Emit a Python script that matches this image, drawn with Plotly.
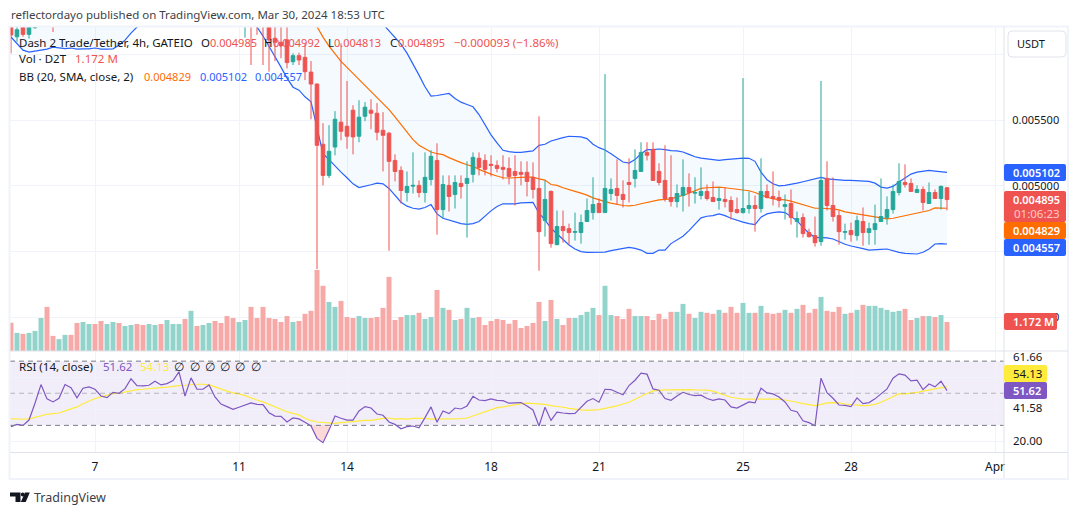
import pandas as pd
import plotly.graph_objects as go

# all prices below are in millionths of a USDT, volume in millions
open_u = [
    6240, 6134, 6250, 6152, 6203, 6300, 6460, 6330, 6270, 6300,
    6470, 6430, 6330, 6450, 6480, 6450, 6370, 6390, 6490, 6460,
    6560, 6800, 6650, 6640, 6660, 6780, 6690, 6730, 6830, 7120,
    6780, 7080, 6860, 6870, 6960, 6720, 6560, 6500, 6420, 6450,
    6510, 6470, 6460, 6240, 6122, 6092, 6110, 5944, 5990, 5977,
    5865, 5774, 5316, 5079, 5295, 5484, 5453, 5575, 5377, 5529,
    5575, 5552, 5422, 5400, 5193, 5117, 4949, 4997, 5003, 4949,
    5048, 5193, 4819, 5003, 4934, 5018, 5018, 5087, 5209, 5193,
    5163, 5155, 5140, 5132, 5109, 5102, 5102, 5064, 4980, 4735,
    4957, 4552, 4690, 4674, 4646, 4644, 4728, 4796, 4865, 4796,
    4941, 4980, 4934, 5025, 5056, 5109, 5254, 5277, 5109, 5041,
    4911, 4880, 4926, 4987, 4944, 4926, 4957, 4911, 4888, 4896,
    4888, 4819, 4796, 4827, 4850, 4827, 4957, 4919, 4911, 4842,
    4865, 4728, 4758, 4644, 4621, 4575, 5056, 4850, 4773, 4646,
    4659, 4621, 4728, 4644, 4667, 4728, 4758, 4819, 4949, 5025,
    5018, 4949, 4972, 4865, 4949, 4903, 4985,
]
close_u = [
    6147, 6187, 6152, 6240, 6300, 6460, 6330, 6270, 6300, 6470,
    6430, 6330, 6450, 6480, 6450, 6370, 6390, 6490, 6460, 6560,
    6800, 6650, 6640, 6660, 6780, 6690, 6730, 6830, 7120, 6780,
    7080, 6860, 6870, 6960, 6720, 6560, 6500, 6420, 6450, 6510,
    6470, 6460, 6330, 6110, 6092, 6066, 5937, 5990, 5957, 5868,
    5774, 5308, 5079, 5262, 5506, 5415, 5377, 5372, 5522, 5598,
    5552, 5407, 5384, 5186, 5109, 4964, 4995, 5003, 4949, 5064,
    5224, 4819, 5010, 4919, 5025, 4995, 5056, 5216, 5140, 5125,
    5155, 5132, 5125, 5071, 5079, 5087, 5033, 4972, 4651, 4896,
    4560, 4690, 4659, 4644, 4651, 4720, 4812, 4857, 4796, 4980,
    4972, 4926, 4896, 5010, 5117, 5254, 5232, 5041, 5025, 4903,
    4880, 4941, 4987, 4949, 4949, 4957, 4903, 4880, 4903, 4880,
    4804, 4796, 4827, 4850, 4827, 4957, 4911, 4903, 4888, 4857,
    4758, 4751, 4636, 4613, 4567, 5041, 4850, 4766, 4651, 4651,
    4628, 4735, 4644, 4674, 4712, 4766, 4819, 4957, 5033, 5010,
    4957, 4972, 4873, 4949, 4903, 4995, 4895,
]
high_u = [
    6300, 6260, 6290, 6290, 6350, 6520, 6500, 6360, 6330, 6500,
    6510, 6460, 6480, 6520, 6500, 6470, 6420, 6530, 6520, 6590,
    6850, 6830, 6690, 6700, 6820, 6800, 6770, 6860, 7180, 7150,
    7130, 7100, 6910, 7000, 6980, 6750, 6590, 6530, 6480, 6560,
    6530, 6490, 6480, 6350, 6300, 6250, 6250, 6008, 6013, 6084,
    5949, 5779, 5476, 5461, 5568, 6084, 5797, 5613, 5651, 5636,
    5659, 5629, 5560, 5410, 5239, 5148, 5109, 5254, 5041, 5254,
    5270, 5323, 5079, 5079, 5079, 5079, 5186, 5254, 5254, 5239,
    5232, 5193, 5232, 5216, 5232, 5186, 5186, 5178, 5529, 5041,
    4964, 4812, 4812, 4712, 4796, 4781, 4903, 5064, 4903, 5850,
    5056, 5201, 5041, 5209, 5277, 5331, 5331, 5331, 5171, 5308,
    5232, 5010, 5201, 5094, 5064, 5140, 5010, 5033, 4987, 4987,
    4919, 4911, 5819, 4957, 4926, 5209, 5010, 5109, 4964, 4934,
    4972, 4804, 4789, 4674, 4766, 5797, 5186, 5064, 4812, 4712,
    4720, 4773, 4835, 4720, 4857, 5056, 4919, 5010, 5171, 5163,
    5056, 5003, 4995, 5025, 4972, 5003, 4992,
]
low_u = [
    6007, 6096, 6134, 6120, 6195, 6280, 6300, 6170, 6250, 6280,
    6390, 6290, 6310, 6420, 6410, 6340, 6330, 6370, 6430, 6440,
    6540, 6620, 6600, 6610, 6640, 6660, 6670, 6710, 6810, 6740,
    6760, 6830, 6820, 6840, 6680, 6520, 6460, 6380, 6390, 6127,
    5919, 6148, 5919, 5868, 5949, 5970, 5893, 5919, 5919, 5804,
    5506, 4366, 5003, 5059, 5232, 5346, 5282, 5239, 5331, 5491,
    5430, 5346, 5109, 4506, 5033, 4865, 4880, 4941, 4911, 4873,
    5003, 4628, 4751, 4804, 4827, 4903, 4606, 5025, 5079, 5079,
    5071, 5102, 5048, 5010, 4850, 5003, 4919, 4903, 4354, 4613,
    4529, 4548, 4567, 4552, 4583, 4560, 4725, 4743, 4796, 4796,
    4888, 4857, 4835, 4873, 4987, 5109, 5193, 5041, 5003, 4880,
    4842, 4835, 4804, 4842, 4865, 4896, 4888, 4880, 4819, 4835,
    4743, 4789, 4789, 4789, 4651, 4796, 4903, 4850, 4835, 4743,
    4705, 4606, 4606, 4606, 4537, 4544, 4812, 4728, 4552, 4590,
    4575, 4583, 4544, 4552, 4552, 4728, 4705, 4789, 4926, 4987,
    4957, 4949, 4812, 4865, 4903, 4819, 4813,
]
volume_m = [
    1.14, 0.73, 0.69, 0.73, 0.81, 1.33, 1.78, 0.61, 0.48, 0.65,
    0.65, 1.13, 1.17, 1.09, 1.09, 1.21, 1.09, 1.17, 1.13, 1.01,
    1.05, 1.09, 1.05, 1.09, 1.05, 1.09, 1.25, 1.09, 1.09, 1.29,
    1.62, 1.01, 1.05, 1.13, 1.21, 1.13, 1.41, 1.33, 1.17, 1.25,
    1.78, 1.33, 1.78, 1.33, 1.29, 1.17, 1.41, 1.17, 1.21, 1.50,
    1.62, 3.27, 2.63, 1.98, 1.78, 2.02, 1.37, 1.33, 1.41, 1.33,
    1.33, 1.37, 1.74, 2.99, 1.25, 1.37, 1.45, 1.45, 1.54, 1.29,
    1.37, 2.46, 1.74, 1.66, 1.25, 1.29, 1.74, 1.33, 1.37, 1.05,
    1.21, 1.29, 1.25, 1.10, 1.25, 0.93, 1.01, 1.13, 1.98, 1.21,
    2.06, 1.29, 1.05, 1.33, 1.33, 1.45, 1.58, 1.74, 1.45, 2.63,
    1.45, 1.41, 1.29, 1.70, 1.41, 1.41, 1.41, 1.25, 1.50, 1.29,
    1.58, 1.58, 1.90, 1.50, 1.33, 1.58, 1.54, 1.50, 1.66, 1.54,
    1.78, 1.54, 1.94, 1.54, 1.54, 1.82, 1.54, 1.50, 1.54, 1.66,
    1.54, 1.70, 1.86, 1.54, 1.70, 2.18, 1.62, 1.58, 1.78, 1.50,
    1.54, 1.66, 1.86, 1.82, 1.82, 1.74, 1.66, 1.58, 1.62, 1.70,
    1.25, 1.33, 1.41, 1.41, 1.37, 1.45, 1.172,
]
bb_upper_u = [
    7150, 7120, 7080, 7040, 7020, 7000, 6990, 6980, 6970, 6960,
    6960, 6970, 6970, 6980, 6990, 7000, 7020, 7050, 7100, 7160,
    7220, 7280, 7330, 7380, 7420, 7450, 7470, 7480, 7490, 7490,
    7480, 7470, 7450, 7430, 7410, 7400, 7390, 7370, 7340, 7310,
    7280, 7240, 7210, 7190, 7160, 7130, 7100, 7060, 7010, 6960,
    6900, 6900, 6880, 6860, 6820, 6750, 6650, 6560, 6480, 6400,
    6330, 6280, 6230, 6177, 6124, 6078, 6009, 5931, 5842, 5753,
    5682, 5687, 5697, 5702, 5664, 5636, 5618, 5601, 5542, 5461,
    5387, 5326, 5270, 5260, 5254, 5254, 5257, 5265, 5308, 5316,
    5341, 5351, 5366, 5377, 5374, 5372, 5359, 5316, 5290, 5272,
    5244, 5209, 5181, 5173, 5199, 5244, 5275, 5275, 5280, 5275,
    5267, 5265, 5257, 5239, 5221, 5211, 5206, 5199, 5193, 5199,
    5204, 5209, 5211, 5209, 5186, 5104, 5046, 5015, 5000, 5003,
    5010, 5020, 5031, 5041, 5053, 5064, 5053, 5048, 5043, 5041,
    5041, 5038, 5036, 5033, 5020, 4990, 4982, 4995, 5028, 5059,
    5089, 5104, 5112, 5117, 5112, 5107, 5102,
]
bb_mid_u = [
    6640, 6600, 6560, 6540, 6530, 6520, 6520, 6510, 6510, 6500,
    6500, 6510, 6510, 6520, 6520, 6530, 6550, 6570, 6600, 6640,
    6690, 6740, 6790, 6830, 6870, 6900, 6920, 6930, 6940, 6940,
    6930, 6920, 6900, 6880, 6860, 6840, 6820, 6790, 6760, 6730,
    6700, 6670, 6640, 6600, 6570, 6530, 6490, 6450, 6410, 6360,
    6290, 6208, 6131, 6063, 6002, 5947, 5901, 5855, 5809, 5763,
    5718, 5669, 5626, 5580, 5524, 5466, 5405, 5351, 5308, 5285,
    5257, 5244, 5237, 5214, 5193, 5176, 5160, 5148, 5125, 5104,
    5089, 5074, 5061, 5059, 5059, 5064, 5066, 5066, 5053, 5043,
    5010, 5003, 4985, 4969, 4957, 4944, 4929, 4908, 4891, 4880,
    4868, 4857, 4850, 4847, 4852, 4863, 4873, 4878, 4893, 4896,
    4901, 4916, 4926, 4944, 4962, 4980, 4985, 4987, 4990, 4985,
    4980, 4975, 4969, 4962, 4949, 4929, 4913, 4901, 4898, 4893,
    4883, 4870, 4857, 4842, 4829, 4829, 4827, 4824, 4817, 4801,
    4794, 4786, 4779, 4771, 4763, 4756, 4748, 4753, 4763, 4771,
    4781, 4789, 4799, 4812, 4832, 4832, 4829,
]
bb_lower_u = [
    6132, 6078, 6032, 6017, 6025, 6032, 6040, 6055, 6048, 6044,
    6048, 6040, 6042, 6042, 6048, 6040, 6040, 6042, 6070, 6108,
    6162, 6208, 6280, 6340, 6400, 6460, 6510, 6550, 6580, 6600,
    6600, 6590, 6570, 6550, 6520, 6490, 6460, 6410, 6360, 6300,
    6250, 6208, 6139, 6063, 5979, 5903, 5819, 5750, 5727, 5677,
    5639, 5435, 5244, 5199, 5148, 5104, 5061, 5015, 4987, 4995,
    5008, 5020, 5015, 4980, 4931, 4875, 4845, 4829, 4822, 4835,
    4857, 4786, 4753, 4738, 4723, 4712, 4707, 4712, 4728, 4771,
    4809, 4842, 4863, 4863, 4863, 4870, 4873, 4873, 4791, 4740,
    4677, 4634, 4590, 4550, 4519, 4499, 4494, 4494, 4491, 4496,
    4506, 4514, 4524, 4532, 4524, 4511, 4486, 4486, 4511, 4511,
    4560, 4590, 4616, 4659, 4707, 4756, 4768, 4773, 4786, 4773,
    4753, 4735, 4723, 4712, 4705, 4761, 4786, 4796, 4801, 4796,
    4766, 4735, 4684, 4639, 4608, 4606, 4603, 4595, 4572, 4555,
    4542, 4534, 4522, 4511, 4511, 4516, 4519, 4506, 4494, 4486,
    4483, 4481, 4494, 4519, 4557, 4560, 4557,
]
rsi = [
    29.2, 30.6, 30, 33.3, 43.8, 55.4, 46.5, 44.6, 46.9, 55.4,
    53.5, 47.1, 53.1, 54, 52.5, 48.3, 47.3, 50.6, 50, 52.9,
    59, 54.8, 54.6, 55, 57.5, 55.2, 56, 57.9, 63.3, 48.3,
    59.6, 52.5, 52.5, 55.2, 47.7, 43.3, 41.7, 40, 41.3, 42.5,
    44, 43.1, 42.9, 37.9, 35.8, 35.6, 32.1, 34.6, 34, 31.9,
    29.6, 21.9, 19.2, 27.1, 35.8, 34.4, 33.3, 33.3, 39, 41.7,
    40.8, 37.1, 36.3, 32.1, 30.6, 27.9, 29.2, 29.6, 28.5, 34.8,
    41.5, 31.9, 39, 37.3, 40.8, 40.2, 42.1, 48.1, 45.8, 45.4,
    46.5, 45.6, 45.4, 43.8, 44, 44.2, 42.1, 39.6, 29.6, 41.3,
    33.1, 38.3, 37.7, 37.3, 37.5, 41, 45, 46.7, 44.4, 52.5,
    52.3, 50.6, 49, 54.8, 58.1, 62.5, 61.9, 52.7, 51.9, 46.7,
    45.6, 48.3, 50.6, 49.2, 48.5, 48.8, 46.7, 45.6, 46.5, 45.8,
    41.5, 40.8, 42.7, 44.6, 44, 53.1, 50.2, 49.6, 47.7, 44.6,
    39.4, 38.5, 32.9, 31.7, 29.8, 59.4, 50.4, 46.9, 42.7, 42.5,
    41.7, 47.1, 43.5, 44.2, 46.5, 49.6, 52.7, 59.4, 62.1, 61.3,
    57.7, 58.1, 52.3, 55.8, 54, 57.5, 51.62,
]
rsi_ma = [
    34.2, 33.8, 33.8, 34, 35, 36, 36.9, 37.3, 37.7, 39,
    40.2, 41.5, 43.5, 45.2, 46.7, 47.7, 48.8, 49.8, 50, 50.8,
    51.7, 52.3, 52.5, 52.7, 53.1, 53.5, 53.8, 54.4, 54.8, 55,
    55.4, 55.6, 55.6, 55.2, 54, 52.5, 51.3, 50.2, 49.6, 48.5,
    46.9, 45.8, 44.6, 43.1, 41.5, 39.6, 38.5, 37.5, 36.5, 34.4,
    32.9, 32.1, 31.7, 31.3, 31.3, 31.7, 32.1, 32.7, 32.9, 33.1,
    33.1, 33.8, 34.4, 34.6, 33.9, 34.2, 33.9, 34.4, 34.6, 34.4,
    33.9, 33.9, 33.9, 33.9, 33.9, 34.2, 34.6, 35.8, 37.1, 38.5,
    39.6, 41, 41.5, 42.3, 42.7, 43.5, 43.8, 43.5, 43.1, 43.1,
    42.3, 41.9, 41.3, 40.6, 40, 39.6, 39.4, 39.6, 39.8, 40.6,
    41.3, 42.1, 43.3, 44.4, 46.3, 48.3, 49.8, 51.5, 51.9, 52.1,
    52.1, 52.3, 52.5, 52.3, 52.1, 52.1, 51.9, 51.3, 50, 48.8,
    47.5, 46.9, 46.3, 46.3, 46.3, 46.3, 46.3, 46.5, 46.3, 45.8,
    45.2, 44.4, 43.5, 42.9, 42.3, 43.1, 44, 44.2, 44, 43.3,
    42.9, 42.5, 42.3, 42.5, 43.1, 44.4, 46.3, 48.1, 49.6, 49.6,
    50, 50.6, 51.3, 52.1, 52.7, 53.5, 54.13,
]
# 0.0045 and 0.006 sit behind the price tag and the USDT box, so they carry no text
price_ticks = [0.004, 0.0045, 0.005, 0.0055, 0.006]
price_tick_labels = ["0.004000", "", "0.005000", "0.005500", ""]
date_ticks = ["2024-03-07", "2024-03-11", "2024-03-14", "2024-03-18", "2024-03-21",
              "2024-03-25", "2024-03-28", "2024-04-01"]
date_tick_labels = ["7", "11", "14", "18", "21", "25", "28", "Apr"]

for series in (close_u, high_u, low_u, volume_m, bb_upper_u, bb_mid_u, bb_lower_u, rsi, rsi_ma):
    assert len(series) == len(open_u), len(series)

W, H = 1080, 515
FONT = "Noto Sans"
INK = "#131722"
GRID = "#f0f3fa"
EDGE = "#e0e3eb"
UP = "#26a69a"
DOWN = "#ef5350"
BLUE = "#2962ff"
ORANGE = "#ff6d00"
PURPLE = "#7e57c2"
YELLOW = "#ffeb3b"


def px_x(x):
    return x / W


def px_y(y):
    return 1 - y / H


def domain(top, bottom):
    return [px_y(bottom), px_y(top)]


def u(values):
    return [v / 1e6 for v in values]


dates = pd.date_range("2024-03-04 16:00", periods=len(open_u), freq="4h")
day0 = pd.Timestamp("2024-03-07")
x_left = day0 - pd.Timedelta(days=85 / 36)
x_right = day0 + pd.Timedelta(days=909 / 36)

fig = go.Figure()

fig.add_trace(go.Scatter(x=dates, y=u(bb_upper_u), mode="lines", line=dict(color=BLUE, width=1.2), yaxis="y"))
fig.add_trace(go.Scatter(x=dates, y=u(bb_lower_u), mode="lines", line=dict(color=BLUE, width=1.2), yaxis="y",
                         fill="tonexty", fillcolor="rgba(33,150,243,0.05)"))
fig.add_trace(go.Scatter(x=dates, y=u(bb_mid_u), mode="lines", line=dict(color=ORANGE, width=1.2), yaxis="y"))

vol_colors = ["#92d3cc" if c >= o else "#f7a9a7" for o, c in zip(open_u, close_u)]
fig.add_trace(go.Bar(x=dates, y=volume_m, marker=dict(color=vol_colors, line_width=0), yaxis="y2"))

fig.add_trace(go.Candlestick(
    x=dates, open=u(open_u), high=u(high_u), low=u(low_u), close=u(close_u), yaxis="y4",
    increasing=dict(line=dict(color=UP, width=1), fillcolor=UP),
    decreasing=dict(line=dict(color=DOWN, width=1), fillcolor=DOWN),
    whiskerwidth=0,
))

# the one dip under 30 that shows a red fill
dip = range(50, 54)
fig.add_trace(go.Scatter(
    x=[dates[i] for i in dip] + [dates[i] for i in reversed(dip)],
    y=[rsi[i] for i in dip] + [30] * len(dip),
    mode="none", fill="toself", fillcolor="rgba(239,83,80,0.22)", yaxis="y3",
))
fig.add_trace(go.Scatter(x=dates, y=rsi_ma, mode="lines", line=dict(color=YELLOW, width=1.2), yaxis="y3"))
fig.add_trace(go.Scatter(x=dates, y=rsi, mode="lines", line=dict(color=PURPLE, width=1.2), yaxis="y3"))

price_range = [0.003743, 0.006208]
shapes = [
    # rsi band and its guide lines
    dict(type="rect", xref="x domain", yref="y3", x0=0, x1=1, y0=30, y1=70, layer="below",
         fillcolor="rgba(126,87,194,0.1)", line_width=0),
    dict(type="line", xref="x domain", yref="y3", x0=0, x1=1, y0=70, y1=70,
         line=dict(color="#787b86", width=1, dash="5px,4px")),
    dict(type="line", xref="x domain", yref="y3", x0=0, x1=1, y0=30, y1=30,
         line=dict(color="#787b86", width=1, dash="5px,4px")),
    dict(type="line", xref="x domain", yref="y3", x0=0, x1=1, y0=50, y1=50,
         line=dict(color="rgba(120,123,134,0.5)", width=1, dash="5px,4px")),
]


def add_box(x0, y0, x1, y1, fill, line=None, r=2):
    # rounded box given in page pixels
    path = (
        f"M {px_x(x0 + r)} {px_y(y0)} L {px_x(x1 - r)} {px_y(y0)} "
        f"Q {px_x(x1)} {px_y(y0)} {px_x(x1)} {px_y(y0 + r)} L {px_x(x1)} {px_y(y1 - r)} "
        f"Q {px_x(x1)} {px_y(y1)} {px_x(x1 - r)} {px_y(y1)} L {px_x(x0 + r)} {px_y(y1)} "
        f"Q {px_x(x0)} {px_y(y1)} {px_x(x0)} {px_y(y1 - r)} L {px_x(x0)} {px_y(y0 + r)} "
        f"Q {px_x(x0)} {px_y(y0)} {px_x(x0 + r)} {px_y(y0)} Z"
    )
    shapes.append(dict(type="path", xref="paper", yref="paper", path=path, fillcolor=fill,
                       line=dict(color=line or fill, width=1 if line else 0), layer="above"))


# outer frame and pane separators
shapes.append(dict(type="rect", xref="paper", yref="paper", x0=px_x(9.5), x1=px_x(1068), y0=px_y(479), y1=px_y(26.5),
                   line=dict(color=GRID, width=2), layer="above"))
for y in (351, 452.5):
    shapes.append(dict(type="line", xref="paper", yref="paper", x0=px_x(10), x1=px_x(1068), y0=px_y(y), y1=px_y(y),
                       line=dict(color=EDGE, width=1), layer="above"))
shapes.append(dict(type="line", xref="paper", yref="paper", x0=px_x(1004), x1=px_x(1004), y0=px_y(478), y1=px_y(27),
                   line=dict(color=EDGE, width=1), layer="above"))

add_box(1008, 31, 1066, 57, "#ffffff", EDGE, 4)
add_box(1004, 164, 1066, 181, BLUE)
add_box(1004, 191, 1066, 222, DOWN)
add_box(1004, 222, 1066, 239, ORANGE)
add_box(1004, 239, 1066, 256, BLUE)
add_box(1004, 313, 1057, 330, DOWN)
add_box(1004, 365, 1047, 382, YELLOW)
add_box(1004, 382, 1047, 399, PURPLE)

# TradingView mark at the bottom left
for path in (
    "M {} {} L {} {} L {} {} L {} {} L {} {} L {} {} Z".format(
        px_x(10), px_y(492.5), px_x(20.5), px_y(492.5), px_x(20.5), px_y(502), px_x(15.5), px_y(502),
        px_x(15.5), px_y(496.5), px_x(10), px_y(496.5)),
    "M {} {} L {} {} L {} {} L {} {} Z".format(
        px_x(25), px_y(492.5), px_x(29.8), px_y(492.5), px_x(25.7), px_y(502), px_x(20.8), px_y(502)),
):
    shapes.append(dict(type="path", xref="paper", yref="paper", path=path, fillcolor="#131722", line_width=0))
shapes.append(dict(type="circle", xref="paper", yref="paper", x0=px_x(20.8), x1=px_x(24.6), y0=px_y(496.4), y1=px_y(492.6),
                   fillcolor="#131722", line_width=0))

annotations = []


def label(text, x, y, color=INK, size=11.5, anchor="left", weight=None):
    annotations.append(dict(
        text=text, x=px_x(x), y=px_y(y), xref="paper", yref="paper", xanchor=anchor, yanchor="middle",
        showarrow=False, borderpad=0, font=dict(family=FONT, size=size, color=color, weight=weight),
    ))


NUM = 11
label("reflectordayo published on TradingView.com, Mar 30, 2024 18:53 UTC", 10, 15, "#3c3f47")

label("Dash 2 Trade/Tether, 4h, GATEIO", 18, 42)
label("O", 200, 42)
label("0.004985", 209, 42, DOWN, NUM)
label("H", 263, 42)
label("0.004992", 272, 42, DOWN, NUM)
label("L", 327, 42)
label("0.004813", 333, 42, DOWN, NUM)
label("C", 389, 42)
label("0.004895", 397, 42, DOWN, NUM)
label("\u22120.000093 (\u22121.86%)", 453, 42, DOWN)
label("Vol \u00b7 D2T", 18, 59)
label("1.172 M", 74, 59, DOWN)
label("BB (20, SMA, close, 2)", 18, 76)
label("0.004829", 143, 76, ORANGE, NUM)
label("0.005102", 199, 76, BLUE, NUM)
label("0.004557", 254, 76, BLUE, NUM)

label("RSI (14, close)", 18, 366)
label("51.62", 102, 366, PURPLE)
label("54.13", 139, 366, YELLOW)
for x in (179, 195, 210, 225, 240, 256):
    label("\u2205", x, 366, anchor="center")

label("USDT", 1031, 44, size=11, anchor="center")
label("0.005102", 1012, 172.5, "#ffffff", 11, weight=600)
label("0.004895", 1012, 199.5, "#ffffff", 11, weight=600)
label("01:06:23", 1013, 214, "#ffc9c8", 11.5)
label("0.004829", 1012, 230.5, "#ffffff", 11, weight=600)
label("0.004557", 1012, 247.5, "#ffffff", 11, weight=600)
label("1.172 M", 1012, 321.5, "#ffffff", 11, weight=600)
label("61.66", 1012, 356.5)
label("54.13", 1012, 373.5)
label("51.62", 1012, 390.5, "#ffffff", 11, weight=600)
label("41.58", 1012, 407.5)
label("20.00", 1012, 440)
label("TradingView", 33, 497, "#3d4048", 12.5)

pane_x = [px_x(10), px_x(1004)]
fig.update_layout(
    width=W, height=H, margin=dict(l=0, r=0, t=0, b=0),
    paper_bgcolor="#ffffff", plot_bgcolor="#ffffff",
    font=dict(family=FONT, size=12, color=INK),
    showlegend=False, hovermode=False, bargap=0.17, boxgap=0.15,
    shapes=shapes, annotations=annotations,
    xaxis=dict(
        domain=pane_x, anchor="y3", type="date", range=[x_left, x_right],
        tickvals=date_ticks, ticktext=date_tick_labels, tickangle=0,
        ticks="outside", ticklen=3, tickcolor="#ffffff", tickfont=dict(size=12, color=INK),
        showgrid=True, gridcolor=GRID, gridwidth=1, zeroline=False,
        rangeslider=dict(visible=False),
    ),
    yaxis=dict(
        domain=domain(27, 351), anchor="x", side="right", range=price_range,
        tickvals=price_ticks, ticktext=price_tick_labels, ticks="outside", ticklen=5, tickcolor="#ffffff",
        tickfont=dict(size=11, color=INK), showgrid=True, gridcolor=GRID, gridwidth=1, zeroline=False,
    ),
    yaxis2=dict(domain=domain(27, 351), anchor="x", overlaying="y", side="right", range=[0, 13.07],
                visible=False),
    yaxis3=dict(
        domain=domain(352, 452.5), anchor="x", side="right", range=[13.1, 75.7],
        tickvals=[20, 40, 60], showticklabels=False, showgrid=True, gridcolor=GRID, gridwidth=1, zeroline=False,
    ),
    yaxis4=dict(domain=domain(27, 351), anchor="x", overlaying="y", side="right", range=price_range,
                visible=False),
)

fig.write_html("out.html", config={"displayModeBar": False},
               post_script="document.body.style.margin = '0';")
